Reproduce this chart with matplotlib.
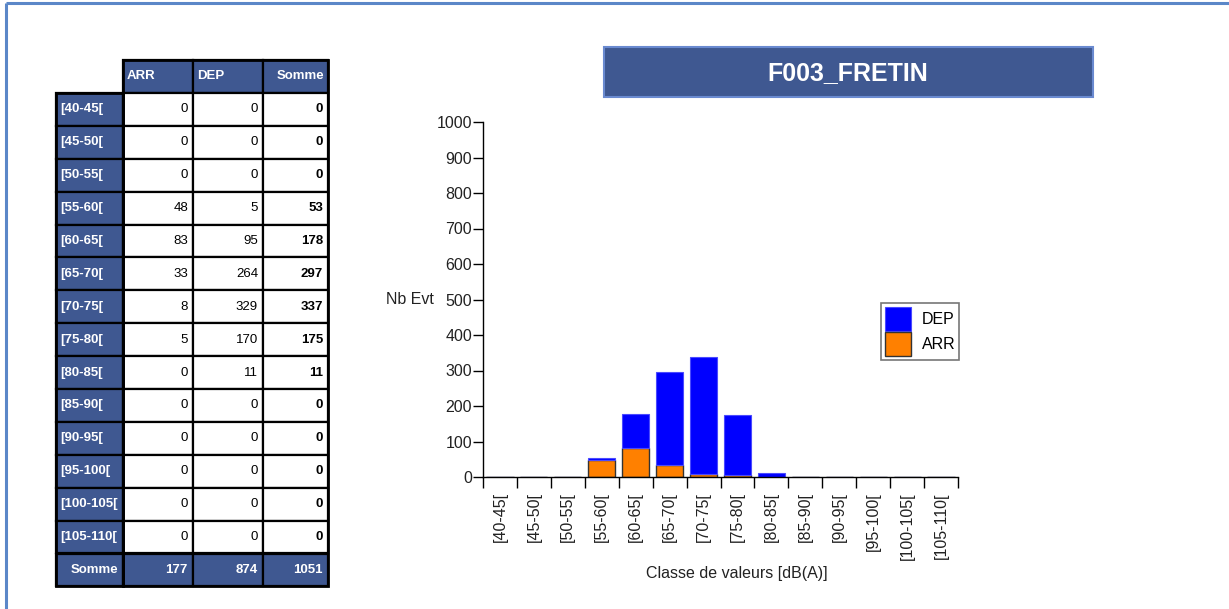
import numpy as np
import matplotlib
matplotlib.use("Agg")
from matplotlib import pyplot as plt
from matplotlib.patches import Rectangle

plt.rcParams['font.family'] = ['Liberation Sans', 'DejaVu Sans']

# data
classes = ["[40-45[", "[45-50[", "[50-55[", "[55-60[", "[60-65[", "[65-70[", "[70-75[",
           "[75-80[", "[80-85[", "[85-90[", "[90-95[", "[95-100[", "[100-105[", "[105-110["]
arr = [0, 0, 0, 48, 83, 33, 8, 5, 0, 0, 0, 0, 0, 0]
dep = [0, 0, 0, 5, 95, 264, 329, 170, 11, 0, 0, 0, 0, 0]
col_names = ["ARR", "DEP", "Somme"]
title = "F003_FRETIN"

W, H = 1229, 609
navy = "#3F5891"
fig = plt.figure(figsize=(W / 100, H / 100), dpi=100)

# overlay axes in pixel coords for the table and decorations
ov = fig.add_axes([0, 0, 1, 1])
ov.set_xlim(0, W)
ov.set_ylim(H, 0)
ov.axis("off")

# page frame (top and left edges only)
ov.plot([6, W], [3, 3], color="#5B87C8", lw=2.2, solid_capstyle="butt")
ov.plot([6, 6], [3, H], color="#5B87C8", lw=2.2, solid_capstyle="butt")

# table
xs = [56, 123, 193, 263, 328]
y0, rh = 60, 32.9
nrows = len(classes) + 2
somme = [a + d for a, d in zip(arr, dep)]
narrow = ['Liberation Sans Narrow', 'Liberation Sans', 'DejaVu Sans']
fs = 9.5

def cell(r, c, fc):
    ov.add_patch(Rectangle((xs[c], y0 + r * rh), xs[c + 1] - xs[c], rh,
                           facecolor=fc, edgecolor="black", lw=1.6))

# header
for c, name in enumerate(col_names):
    cell(0, c + 1, navy)
    yc = y0 + 0.5 * rh
    if name == "Somme":
        ov.text(xs[c + 2] - 4, yc, name, color="white", fontweight="bold", fontsize=fs,
                ha="right", va="center")
    else:
        ov.text(xs[c + 1] + 4, yc, name, color="white", fontweight="bold", fontsize=fs,
                ha="left", va="center")

for i, lab in enumerate(classes):
    r = i + 1
    yc = y0 + (r + 0.5) * rh
    cell(r, 0, navy)
    ov.text(xs[0] + 4, yc, lab, color="white", fontweight="bold", fontsize=fs, ha="left", va="center")
    vals = [arr[i], dep[i], somme[i]]
    for c, v in enumerate(vals):
        cell(r, c + 1, "white")
        ov.text(xs[c + 2] - 5, yc, str(v), color="black", fontsize=fs, ha="right", va="center",
                family=narrow, fontweight="bold" if c == 2 else "normal")

r = nrows - 1
yc = y0 + (r + 0.5) * rh
totals = [sum(arr), sum(dep), sum(somme)]
cell(r, 0, navy)
ov.text(xs[1] - 5, yc, "Somme", color="white", fontweight="bold", fontsize=fs, ha="right", va="center")
for c, v in enumerate(totals):
    cell(r, c + 1, navy)
    ov.text(xs[c + 2] - 5, yc, str(v), color="white", fontweight="bold", fontsize=fs,
            ha="right", va="center")
ov.add_patch(Rectangle((xs[0], y0 + rh), xs[1] - xs[0], rh * (nrows - 1), fill=False,
                       edgecolor="black", lw=2))
ov.add_patch(Rectangle((xs[1], y0), xs[-1] - xs[1], rh * nrows, fill=False,
                       edgecolor="black", lw=2))

# title box
ov.add_patch(Rectangle((604, 47), 489, 50, facecolor=navy, edgecolor="#6A8AD0", lw=1.5))
ov.text(848, 73, title, color="white", fontweight="bold", fontsize=18, ha="center", va="center")

# chart
ax = fig.add_axes([483 / W, (H - 477) / H, (958 - 483) / W, (477 - 122) / H])
x = np.arange(len(classes))
b_arr = ax.bar(x, arr, width=0.8, color="#FF8000", edgecolor="#333333", lw=1)
b_dep = ax.bar(x, dep, width=0.8, bottom=arr, color="#0000FF", edgecolor="#4A4AFF", lw=0.8)
ax.set_xlim(-0.5, len(classes) - 0.5)
ax.set_ylim(0, 1000)
ax.set_yticks(np.arange(0, 1001, 100))
ax.set_xticks(x)
ax.set_xticklabels(classes, rotation=90, fontsize=11.5, color="#222222")
ax.set_xticks(np.arange(-0.5, len(classes)), minor=True)
ax.tick_params(axis="x", which="major", length=0, pad=11)
ax.tick_params(axis="x", which="minor", length=8, width=1, direction="out")
ax.tick_params(axis="y", length=7, width=1, direction="out", labelsize=11.5, labelcolor="#222222", pad=1)
for s in ["top", "right"]:
    ax.spines[s].set_visible(False)
for s in ["left", "bottom"]:
    ax.spines[s].set_linewidth(1)
ax.set_ylabel("Nb Evt", rotation=0, fontsize=11.5, ha="right", va="center", color="#222222")
ax.yaxis.set_label_coords(-0.103, 0.5)
ax.set_xlabel("Classe de valeurs [dB(A)]", fontsize=11.5, color="#222222")
ax.xaxis.set_label_coords((737 - 483) / 475, -0.25)

leg = ax.legend([b_dep, b_arr], ["DEP", "ARR"], loc="upper left",
                bbox_to_anchor=((881 - 483) / 475, (477 - 303) / 355),
                fontsize=11.5, frameon=True, fancybox=False, edgecolor="#555555",
                handlelength=1.6, handleheight=1.9, handletextpad=0.7,
                borderpad=0.25, labelspacing=0.1, borderaxespad=0)
leg.get_frame().set_linewidth(1.2)

plt.savefig("out.png", dpi=100)
